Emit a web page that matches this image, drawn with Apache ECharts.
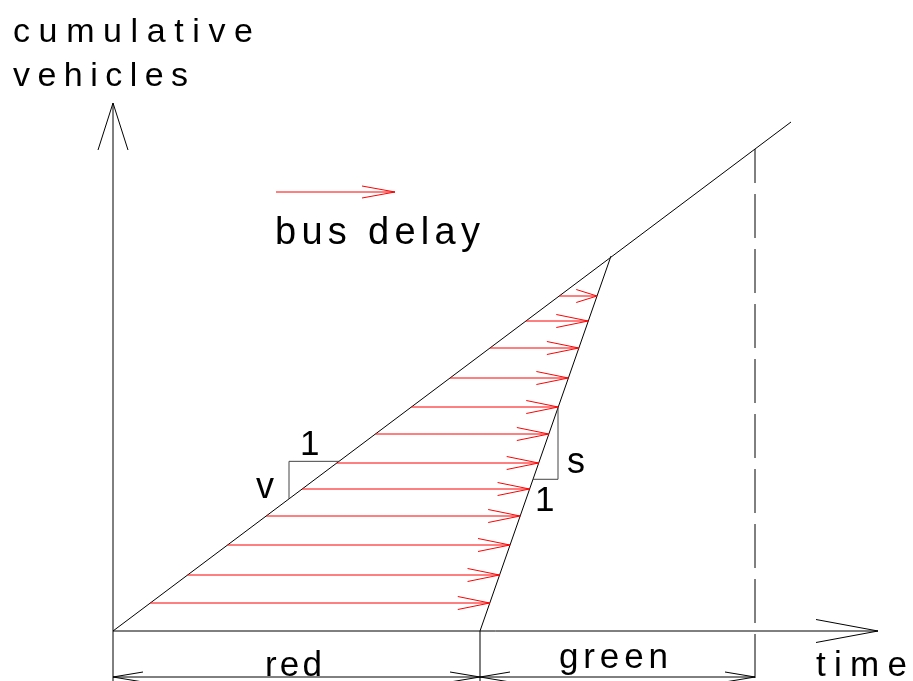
<!DOCTYPE html>
<html>
<head>
<meta charset="utf-8">
<script src="https://cdn.jsdelivr.net/npm/echarts@6/dist/echarts.min.js"></script>
<style>
  html, body { margin: 0; padding: 0; background: #fff; }
  #chart { width: 913px; height: 681px; }
</style>
</head>
<body>
<div id="chart"></div>
<script>
// time (x) and cumulative vehicles (y), in drawing units
const arrivalLine = [[0, 0], [678, 509]];
const departureLine = [[367, 0], [498, 375]];
const redEnd = 367;
const greenEnd = 642;
const timeAxisEnd = 765;
const vehicleAxisEnd = 528;
const delayCounts = [28, 56, 86, 115, 142, 168, 197, 224, 253, 283, 310, 335];
const vSlope = [176, 226];   // time span of the "1 / v" triangle
const sSlope = [420, 445];   // time span of the "s / 1" triangle
const dimLevel = -46;
const extLevel = -50;

function timeOn(line, c) {
  const [[t0, c0], [t1, c1]] = line;
  return t0 + (c - c0) * (t1 - t0) / (c1 - c0);
}
function countOn(line, t) {
  const [[t0, c0], [t1, c1]] = line;
  return c0 + (t - t0) * (c1 - c0) / (t1 - t0);
}

function seg(p, q, style) {
  return {
    type: 'line',
    shape: { x1: p[0], y1: p[1], x2: q[0], y2: q[1] },
    style: Object.assign({ stroke: '#000', lineWidth: 1 }, style || {})
  };
}
// open "V" head, tip at tip, pointing along dir
function openHead(tip, dir, len, half, color) {
  const bx = tip[0] - dir[0] * len, by = tip[1] - dir[1] * len;
  const nx = -dir[1], ny = dir[0];
  return {
    type: 'polyline',
    shape: { points: [[bx + nx * half, by + ny * half], tip, [bx - nx * half, by - ny * half]] },
    style: { stroke: color, fill: null, lineWidth: 1 }
  };
}

// letter-spaced text built from single characters
const mctx = document.createElement('canvas').getContext('2d');
function spaced(str, left, baseline, size, width) {
  const font = size + 'px "Liberation Sans", Arial, sans-serif';
  mctx.font = font;
  const chars = [...str];
  const w = chars.map(ch => mctx.measureText(ch).width);
  const natural = w.reduce((a, b) => a + b, 0);
  const gap = chars.length > 1 ? (width - natural) / (chars.length - 1) : 0;
  let x = left;
  return chars.map((ch, i) => {
    const el = {
      type: 'text', x: x, y: baseline - size * 0.2,
      style: { text: ch, font: font, fill: '#000', textAlign: 'left', textVerticalAlign: 'middle' }
    };
    x += w[i] + gap;
    return el;
  });
}

const chart = echarts.init(document.getElementById('chart'));

const lineData = [
  [arrivalLine[0][0], arrivalLine[0][1], arrivalLine[1][0], arrivalLine[1][1]],
  [departureLine[0][0], departureLine[0][1], departureLine[1][0], departureLine[1][1]],
  [0, extLevel, 0, vehicleAxisEnd],
  [0, 0, timeAxisEnd, 0],
  [redEnd, extLevel, redEnd, 0]
];

const delayData = delayCounts.map(c => [timeOn(arrivalLine, c), c, timeOn(departureLine, c)]);

const option = {
  animation: false,
  grid: { left: 113, top: 103, width: timeAxisEnd, height: vehicleAxisEnd },
  xAxis: { type: 'value', min: 0, max: timeAxisEnd, show: false },
  yAxis: { type: 'value', min: 0, max: vehicleAxisEnd, show: false },
  series: [
    {
      type: 'custom',
      data: lineData,
      renderItem: function (params, api) {
        const p = api.coord([api.value(0), api.value(1)]);
        const q = api.coord([api.value(2), api.value(3)]);
        return seg(p, q);
      }
    },
    {
      // axis heads
      type: 'custom',
      data: [[0, vehicleAxisEnd, 0], [timeAxisEnd, 0, 1]],
      renderItem: function (params, api) {
        const tip = api.coord([api.value(0), api.value(1)]);
        return api.value(2) === 0
          ? openHead(tip, [0, -1], 47, 15, '#000')
          : openHead(tip, [1, 0], 62, 11.5, '#000');
      }
    },
    {
      // end of green, dashed
      type: 'custom',
      data: [[greenEnd, countOn(arrivalLine, greenEnd)]],
      renderItem: function (params, api) {
        const p = api.coord([api.value(0), api.value(1)]);
        const q = api.coord([api.value(0), extLevel]);
        return seg(p, q, { lineDash: [44, 11], lineDashOffset: 10 });
      }
    },
    {
      // bus delay arrows
      type: 'custom',
      data: delayData,
      renderItem: function (params, api) {
        const p = api.coord([api.value(0), api.value(1)]);
        const q = api.coord([api.value(2), api.value(1)]);
        const len = Math.min(32, (q[0] - p[0]) * 0.55);
        return {
          type: 'group',
          children: [seg(p, q, { stroke: '#ff0000' }), openHead(q, [1, 0], len, 6.5, '#ff0000')]
        };
      }
    },
    {
      // slope triangles
      type: 'custom',
      data: [[0], [1]],
      renderItem: function (params, api) {
        let pts;
        if (api.value(0) === 0) {
          const c0 = countOn(arrivalLine, vSlope[0]), c1 = countOn(arrivalLine, vSlope[1]);
          pts = [[vSlope[0], c0], [vSlope[0], c1], [vSlope[1], c1]];
        } else {
          const c0 = countOn(departureLine, sSlope[0]), c1 = countOn(departureLine, sSlope[1]);
          pts = [[sSlope[0], c0], [sSlope[1], c0], [sSlope[1], c1]];
        }
        return {
          type: 'polyline',
          shape: { points: pts.map(d => api.coord(d)) },
          style: { stroke: '#444', fill: null, lineWidth: 1 }
        };
      }
    },
    {
      // red / green dimension arrows
      type: 'custom',
      data: [[0, redEnd], [redEnd, greenEnd]],
      renderItem: function (params, api) {
        const a = api.coord([api.value(0), dimLevel]);
        const b = api.coord([api.value(1), dimLevel]);
        return {
          type: 'group',
          children: [
            seg(a, b),
            openHead(a, [-1, 0], 30, 5, '#000'),
            openHead(b, [1, 0], 30, 5, '#000')
          ]
        };
      }
    }
  ],
  graphic: [].concat(
    spaced('cumulative', 13, 39, 34, 240),
    spaced('vehicles', 13, 83, 34, 175),
    spaced('bus delay', 275, 241, 38, 205),
    spaced('red', 265, 673, 35, 57),
    spaced('green', 559, 665, 35, 109),
    spaced('time', 816, 673, 35, 91),
    spaced('1', 300, 452, 35, 13),
    spaced('v', 256, 495, 36, 17),
    spaced('s', 567, 470, 36, 18),
    spaced('1', 535, 508, 35, 12),
    [
      { type: 'line', shape: { x1: 276, y1: 192, x2: 395, y2: 192 }, style: { stroke: '#ff0000', lineWidth: 1 } },
      { type: 'polyline', shape: { points: [[362, 186], [395, 192], [362, 198]] }, style: { stroke: '#ff0000', fill: null, lineWidth: 1 } }
    ]
  )
};

chart.setOption(option);
</script>
</body>
</html>
